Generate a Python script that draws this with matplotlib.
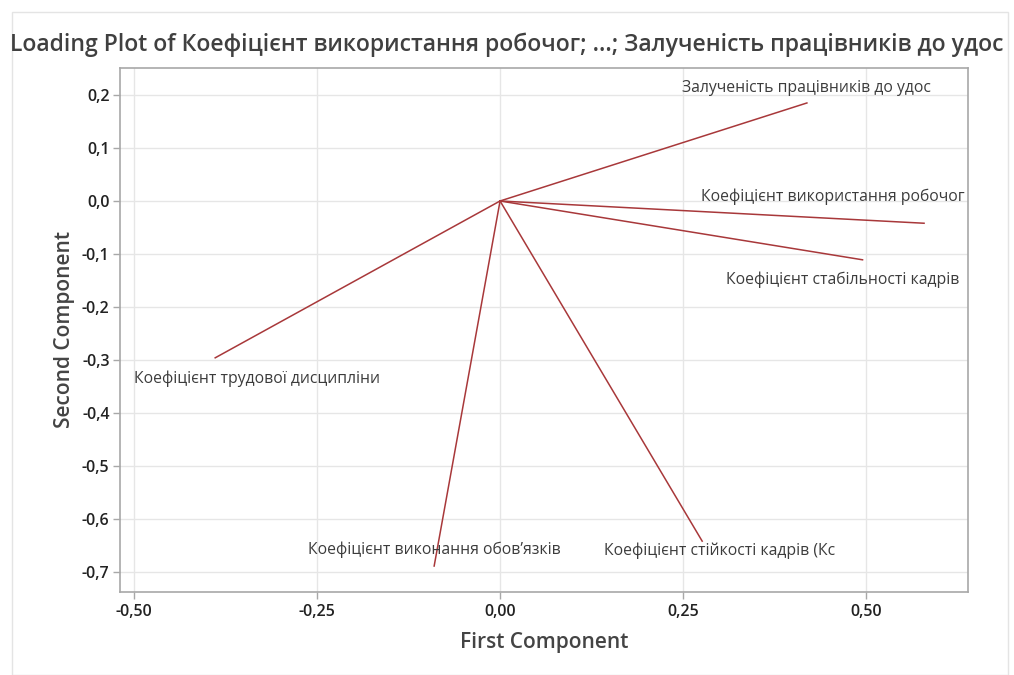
import matplotlib
matplotlib.use("Agg")
import matplotlib.pyplot as plt
from matplotlib.patches import Rectangle

plt.rcParams["font.family"] = ["Open Sans", "DejaVu Sans"]

# loadings on the first two principal components
variables = [
    "Залученість працівників до удос",
    "Коефіцієнт використання робочог",
    "Коефіцієнт стабільності кадрів",
    "Коефіцієнт трудової дисципліни",
    "Коефіцієнт виконання обов’язків",
    "Коефіцієнт стійкості кадрів (Кс",
]
pc1 = [0.419, 0.579, 0.495, -0.389, -0.090, 0.276]
pc2 = [0.185, -0.042, -0.111, -0.296, -0.689, -0.642]

x_ticks = [-0.50, -0.25, 0.00, 0.25, 0.50]
x_tick_labels = ["-0,50", "-0,25", "0,00", "0,25", "0,50"]
y_ticks = [0.2, 0.1, 0.0, -0.1, -0.2, -0.3, -0.4, -0.5, -0.6, -0.7]
y_tick_labels = ["0,2", "0,1", "0,0", "-0,1", "-0,2", "-0,3", "-0,4", "-0,5", "-0,6", "-0,7"]

# label placement relative to each vector tip, in pixels
label_offsets = [(0, 15), (-91, 26), (-20, -20), (42, -21), (0, 16), (17, -10)]

line_color = "#a8383a"
text_color = "#3c3c3c"

fig = plt.figure(figsize=(10.14, 6.75), dpi=100)
fig.patches.append(Rectangle((12 / 1014, 0), 996 / 1014, 663 / 675,
                             transform=fig.transFigure, fill=False,
                             edgecolor="#e4e4e4", linewidth=1))
ax = fig.add_axes([120 / 1014, 1 - 592 / 675, 848 / 1014, 524 / 675])

for x, y, name, (dx, dy) in zip(pc1, pc2, variables, label_offsets):
    ax.plot([0, x], [0, y], color=line_color, linewidth=1.1)
    ax.annotate(name, xy=(x, y), xytext=(dx, dy), textcoords="offset pixels",
                ha="center", va="center", fontsize=11.3, color=text_color)

ax.set_xlim(-0.519, 0.639)
ax.set_ylim(-0.738, 0.251)
ax.set_xticks(x_ticks)
ax.set_xticklabels(x_tick_labels)
ax.set_yticks(y_ticks)
ax.set_yticklabels(y_tick_labels)
ax.grid(True, color="#e6e6e6", linewidth=1)
ax.set_axisbelow(True)

for spine in ax.spines.values():
    spine.set_color("#a8a8a8")
    spine.set_linewidth(1.2)
ax.tick_params(axis="both", colors="#a8a8a8", length=5, width=1,
               labelcolor="#222222", labelsize=11.5)
ax.tick_params(axis="y", pad=2.5)
for lbl in ax.get_xticklabels() + ax.get_yticklabels():
    lbl.set_fontweight("semibold")

ax.set_xlabel("First Component", fontsize=15, fontweight="semibold",
              color="#444444", labelpad=9)
ax.set_ylabel("Second Component", fontsize=15, fontweight="semibold",
              color="#444444", labelpad=5)

fig.text(0.5, 1 - 45 / 675,
         "Loading Plot of Коефіцієнт використання робочог; ...; Залученість працівників до удос",
         ha="center", va="center", fontsize=16.6, fontweight="semibold", color="#404040")

fig.savefig("out.png", dpi=100, facecolor="white")
